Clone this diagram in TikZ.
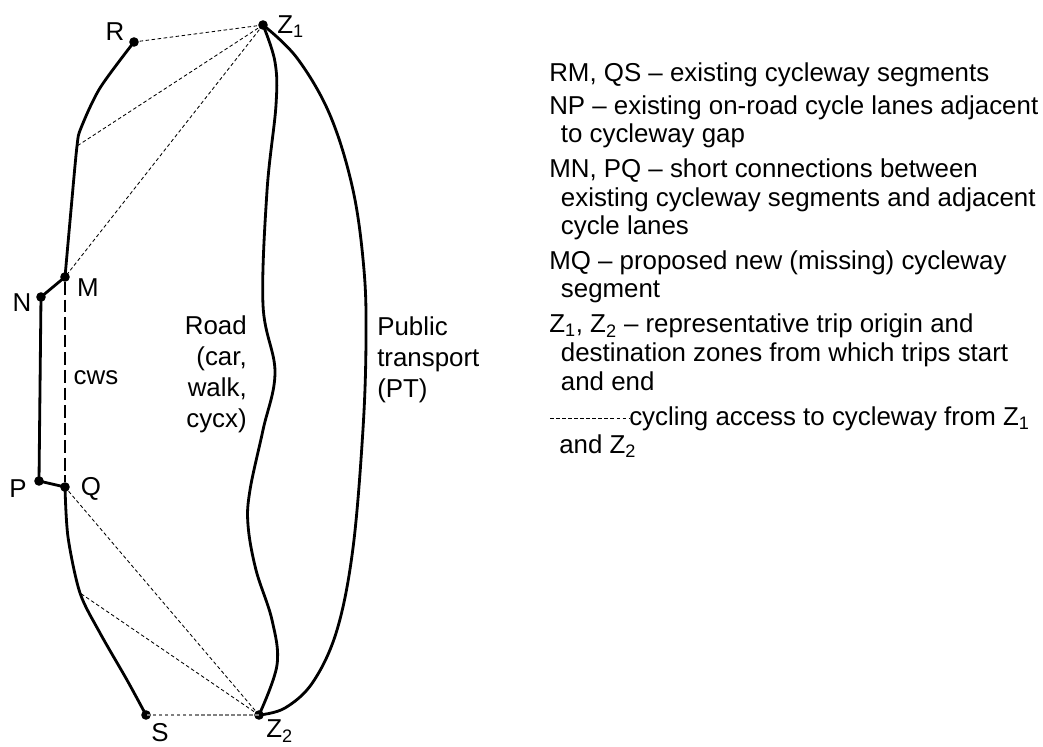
\documentclass[tikz,border=0pt]{standalone}
\usepackage{fontspec}
\setmainfont{Liberation Sans}
\usetikzlibrary{positioning}

\tikzstyle{dot} = [circle, fill=black, inner sep=0pt, minimum size=0.24cm]
\tikzstyle{route} = [line width=2pt, line join=round, line cap=round]
\tikzstyle{gap} = [line width=1.6pt, dash pattern=on 9pt off 3.5pt]
\tikzstyle{access} = [line width=0.6pt, dash pattern=on 2.5pt off 1.8pt]
\tikzstyle{txt} = [font=\fontsize{18.4}{20.3}\selectfont, inner sep=0pt]
\tikzstyle{legend} = [txt, anchor=base west, align=left]
\newcommand{\ind}{\hspace*{0.45em}}

\begin{document}
\begin{tikzpicture}[x=0.025cm, y=-0.025cm]

\useasboundingbox (0,0) rectangle (1043,747);

% points of the network
\node (z1) [dot] at (263,25) {};
\node (z2) [dot] at (259,715) {};
\node (r) [dot] at (134,42) {};
\node (m) [dot] at (65,277) {};
\node (n) [dot] at (41,297) {};
\node (p) [dot] at (39,481) {};
\node (q) [dot] at (65,487) {};
\node (s) [dot] at (146,715) {};
\coordinate (rbend) at (77,146);
\coordinate (sbend) at (80,593);

% point names
\node (labelz1) [txt, anchor=west] at (277,27) {Z\textsubscript{1}};
\node (labelr) [txt] at (115,32) {R};
\node (labelm) [txt] at (88,288) {M};
\node (labeln) [txt] at (22,303) {N};
\node (labelp) [txt] at (18,489) {P};
\node (labelq) [txt] at (91,489) {Q};
\node (labels) [txt] at (160,733) {S};
\node (labelz2) [txt, anchor=west] at (266,731) {Z\textsubscript{2}};

% cycleway and lanes
\draw[route] plot[smooth, tension=0.5] coordinates {(r.center) (100,88) (81,128) (rbend) (71,210) (m.center)};
\draw[route] plot[smooth, tension=0.5] coordinates {(q.center) (68,537) (sbend) (100,633) (127,680) (s.center)};
\draw[route] (m.center) -- (n.center) -- (p.center) -- (q.center);
\draw[gap] (m) -- (q);

% road and public transport
\draw[route] plot[smooth, tension=0.6] coordinates {(z1.center) (275,62) (276,105) (267,191) (263,305) (275,372) (263,430) (250,490) (248,525) (256,570) (272,620) (277,665) (z2.center)};
\draw[route] plot[smooth, tension=0.6] coordinates {(z1.center) (297,58) (330,115) (353,190) (364,270) (366,340) (363,429) (353,548) (337,630) (313,682) (285,708) (z2.center)};

% access to the cycleway
\draw[access] (z1.center) -- (r.center);
\draw[access] (z1.center) -- (rbend);
\draw[access] (z1.center) -- (m.center);
\draw[access] (z2.center) -- (q.center);
\draw[access] (z2.center) -- (sbend);
\draw[access, gray, line width=0.9pt] (z2.center) -- (s.center);

\node (labelcws) [txt] at (96,378) {cws};
\node (labelroad) [txt, font=\fontsize{18.4}{22}\selectfont, align=right, anchor=base east] at (247,427) {Road\\(car,\\walk,\\cycx)};
\node (labelpt) [txt, font=\fontsize{18.4}{22}\selectfont, align=left, anchor=base west] at (377,397) {Public\\transport\\(PT)};

% legend (base anchor sits on the last line)
\node (legrm) [legend] at (549,82) {RM, QS -- existing cycleway segments};
\node (legnp) [legend] at (549,143) {NP -- existing on-road cycle lanes adjacent\\\ind to cycleway gap};
\node (legmn) [legend] at (549,235) {MN, PQ -- short connections between\\\ind existing cycleway segments and adjacent\\\ind cycle lanes};
\node (legmq) [legend] at (549,298) {MQ -- proposed new (missing) cycleway\\\ind segment};
\node (legz) [legend] at (549,390) {Z\textsubscript{1}, Z\textsubscript{2} -- representative trip origin and\\\ind destination zones from which trips start\\\ind and end};
\coordinate (legdash) at (550,418);
\node (legcyc) [legend] at (629,425) {cycling access to cycleway from Z\textsubscript{1}};
\node (legcyc2) [legend] at (559,453) {and Z\textsubscript{2}};
\draw[access] (legdash) -- (legdash -| legcyc.west);

\end{tikzpicture}
\end{document}
